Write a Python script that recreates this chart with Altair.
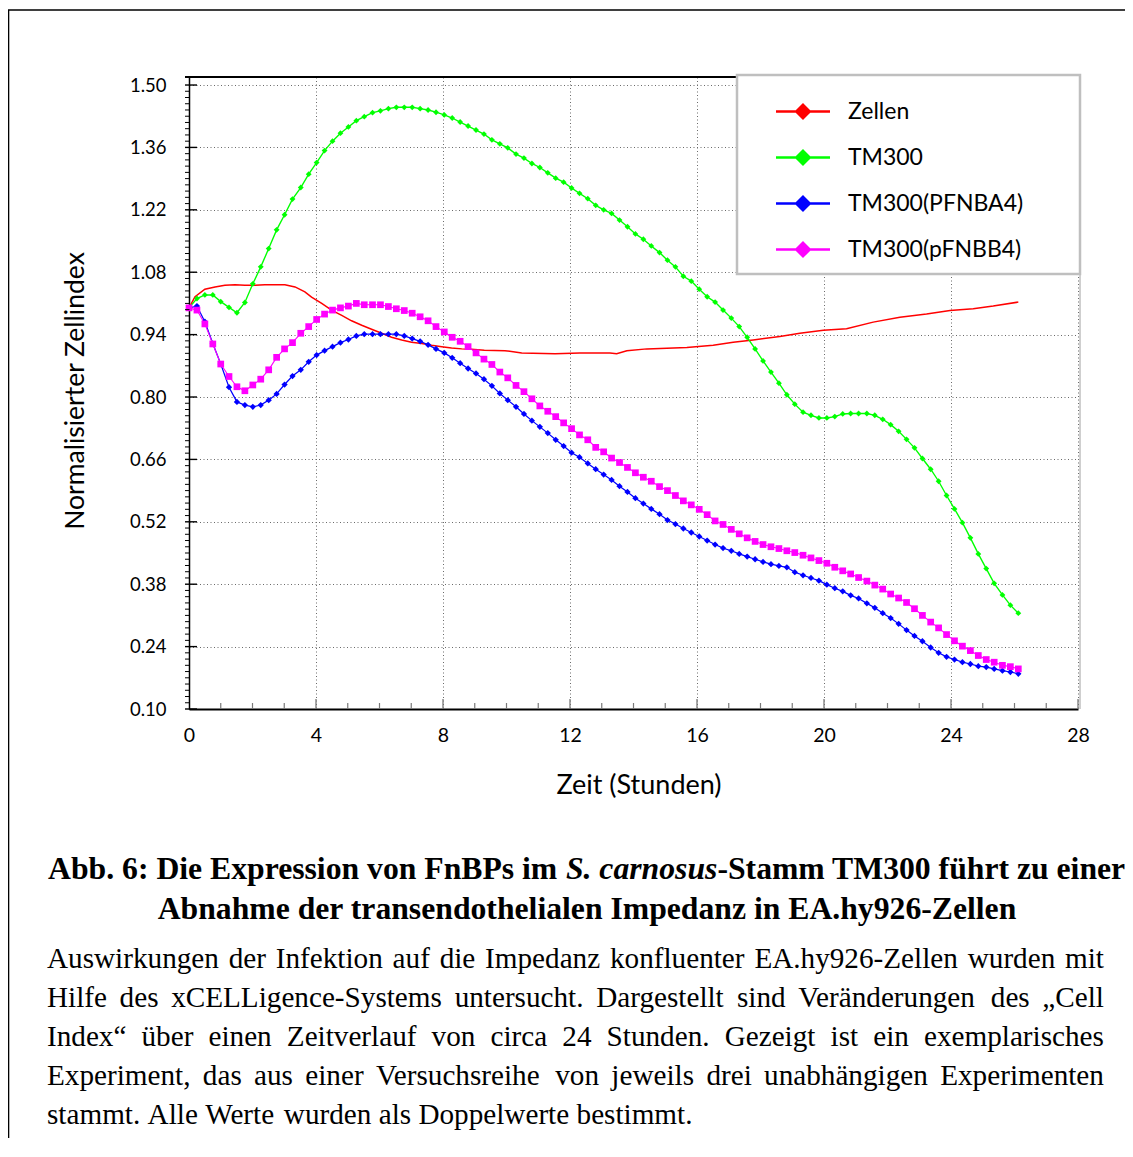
import altair as alt
import pandas as pd

# ---------------- data ----------------
hours = [0.00, 0.25, 0.50, 0.75, 1.00, 1.26, 1.51, 1.76, 2.01, 2.26,
         2.51, 2.76, 3.01, 3.26, 3.52, 3.77, 4.02, 4.27, 4.52, 4.77,
         5.02, 5.27, 5.52, 5.78, 6.03, 6.28, 6.53, 6.78, 7.03, 7.28,
         7.53, 7.78, 8.04, 8.29, 8.54, 8.79, 9.04, 9.29, 9.54, 9.79,
         10.04, 10.30, 10.55, 10.80, 11.05, 11.30, 11.55, 11.80, 12.05, 12.30,
         12.56, 12.81, 13.06, 13.31, 13.56, 13.81, 14.06, 14.31, 14.56, 14.82,
         15.07, 15.32, 15.57, 15.82, 16.07, 16.32, 16.57, 16.82, 17.08, 17.33,
         17.58, 17.83, 18.08, 18.33, 18.58, 18.83, 19.08, 19.34, 19.59, 19.84,
         20.09, 20.34, 20.59, 20.84, 21.09, 21.35, 21.60, 21.85, 22.10, 22.35,
         22.60, 22.85, 23.10, 23.36, 23.61, 23.86, 24.11, 24.36, 24.61, 24.86,
         25.11, 25.36, 25.62, 25.87, 26.12]

tm300 = [1.000, 1.021, 1.029, 1.029, 1.014, 1.001, 0.989, 1.012, 1.054, 1.092,
         1.133, 1.175, 1.209, 1.244, 1.270, 1.300, 1.326, 1.353, 1.374, 1.392,
         1.406, 1.420, 1.429, 1.438, 1.442, 1.447, 1.450, 1.450, 1.450, 1.447,
         1.444, 1.439, 1.433, 1.426, 1.417, 1.408, 1.399, 1.390, 1.377, 1.368,
         1.359, 1.345, 1.336, 1.324, 1.315, 1.303, 1.291, 1.282, 1.269, 1.257,
         1.245, 1.230, 1.220, 1.212, 1.197, 1.182, 1.166, 1.154, 1.139, 1.124,
         1.107, 1.092, 1.071, 1.060, 1.042, 1.025, 1.013, 0.995, 0.977, 0.958,
         0.934, 0.908, 0.881, 0.856, 0.831, 0.805, 0.784, 0.766, 0.759, 0.753,
         0.753, 0.756, 0.762, 0.763, 0.763, 0.763, 0.759, 0.750, 0.738, 0.723,
         0.705, 0.686, 0.662, 0.638, 0.611, 0.579, 0.549, 0.518, 0.484, 0.448,
         0.415, 0.382, 0.356, 0.333, 0.315]

pfnba4 = [1.000, 1.004, 0.969, 0.920, 0.874, 0.822, 0.789, 0.782, 0.778, 0.782,
          0.793, 0.807, 0.828, 0.847, 0.861, 0.879, 0.894, 0.904, 0.913, 0.922,
          0.929, 0.937, 0.941, 0.941, 0.941, 0.941, 0.941, 0.937, 0.931, 0.925,
          0.917, 0.908, 0.899, 0.888, 0.876, 0.864, 0.853, 0.840, 0.825, 0.808,
          0.793, 0.778, 0.762, 0.747, 0.733, 0.719, 0.704, 0.690, 0.675, 0.665,
          0.651, 0.638, 0.626, 0.614, 0.600, 0.587, 0.573, 0.561, 0.549, 0.537,
          0.524, 0.515, 0.505, 0.496, 0.487, 0.478, 0.469, 0.461, 0.455, 0.448,
          0.442, 0.436, 0.430, 0.425, 0.421, 0.418, 0.407, 0.400, 0.394, 0.388,
          0.379, 0.371, 0.364, 0.355, 0.348, 0.337, 0.327, 0.315, 0.304, 0.291,
          0.277, 0.264, 0.252, 0.238, 0.226, 0.217, 0.211, 0.205, 0.201, 0.196,
          0.194, 0.190, 0.186, 0.183, 0.179]

pfnbb4 = [1.000, 0.995, 0.964, 0.919, 0.874, 0.846, 0.823, 0.814, 0.827, 0.840,
          0.861, 0.889, 0.908, 0.922, 0.943, 0.958, 0.974, 0.986, 0.995, 1.000,
          1.004, 1.010, 1.007, 1.007, 1.007, 1.003, 0.998, 0.994, 0.988, 0.980,
          0.971, 0.958, 0.946, 0.934, 0.925, 0.913, 0.899, 0.885, 0.873, 0.856,
          0.843, 0.826, 0.812, 0.796, 0.780, 0.768, 0.756, 0.742, 0.729, 0.715,
          0.704, 0.687, 0.677, 0.663, 0.653, 0.642, 0.630, 0.620, 0.611, 0.599,
          0.590, 0.579, 0.567, 0.558, 0.548, 0.536, 0.522, 0.514, 0.503, 0.493,
          0.484, 0.476, 0.469, 0.464, 0.460, 0.455, 0.451, 0.445, 0.439, 0.433,
          0.427, 0.418, 0.410, 0.403, 0.395, 0.387, 0.378, 0.369, 0.358, 0.349,
          0.339, 0.325, 0.310, 0.295, 0.282, 0.267, 0.253, 0.241, 0.231, 0.220,
          0.211, 0.205, 0.198, 0.195, 0.190]

zellen_hours = [0.00, 0.19, 0.50, 0.82, 1.13, 1.45, 1.76, 2.08, 2.39, 2.71,
                3.02, 3.34, 3.65, 3.86, 4.18, 4.49, 4.81, 5.12, 5.44, 5.75,
                6.07, 6.38, 6.70, 7.01, 7.33, 7.64, 7.96, 8.27, 8.59, 8.90,
                9.30, 9.95, 10.48, 11.53, 12.31, 13.26, 13.47, 13.79, 14.42, 15.68,
                16.51, 17.14, 17.77, 18.61, 19.24, 19.98, 20.71, 21.55, 22.39, 23.23,
                23.97, 24.70, 25.33, 26.12]
zellen = [1.000, 1.025, 1.042, 1.047, 1.051, 1.052, 1.051, 1.051, 1.052, 1.052,
          1.052, 1.047, 1.036, 1.024, 1.010, 0.995, 0.983, 0.971, 0.961, 0.952,
          0.943, 0.934, 0.928, 0.923, 0.920, 0.916, 0.913, 0.910, 0.908, 0.907,
          0.905, 0.904, 0.899, 0.897, 0.899, 0.899, 0.897, 0.904, 0.908, 0.911,
          0.916, 0.923, 0.928, 0.936, 0.943, 0.950, 0.953, 0.968, 0.979, 0.986,
          0.994, 0.998, 1.004, 1.013]

series_names = ["Zellen", "TM300", "TM300(PFNBA4)", "TM300(pFNBB4)"]
series_colors = ["#ff0000", "#00ff00", "#0000ff", "#ff00ff"]
line_widths = [1.5, 1.1, 1.3, 1.6]
marker_series = ["TM300", "TM300(PFNBA4)", "TM300(pFNBB4)"]
marker_shapes = ["diamond", "diamond", "square"]
marker_sizes = [34, 45, 55]

y_ticks = [0.10, 0.24, 0.38, 0.52, 0.66, 0.80, 0.94, 1.08, 1.22, 1.36, 1.50]
x_ticks = [0, 4, 8, 12, 16, 20, 24, 28]
x_minor = [h for h in range(1, 28) if h % 4]
y_minor = [round(0.10 + 0.014 * k, 3) for k in range(1, 100) if k % 10]

x_title = "Zeit (Stunden)"
y_title = "Normalisierter Zellindex"
head_line1 = [("Abb. 6: Die Expression von FnBPs im ", "normal"),
              ("S. carnosus", "italic"),
              ("-Stamm TM300 führt zu einer", "normal")]
head_line2 = "Abnahme der transendothelialen Impedanz in EA.hy926-Zellen"
body_lines = [
    "Auswirkungen der Infektion auf die Impedanz konfluenter EA.hy926-Zellen wurden mit",
    "Hilfe des xCELLigence-Systems untersucht. Dargestellt sind Veränderungen des „Cell",
    "Index“ über einen Zeitverlauf von circa 24 Stunden. Gezeigt ist ein exemplarisches",
    "Experiment, das aus einer Versuchsreihe von jeweils drei unabhängigen Experimenten",
    "stammt. Alle Werte wurden als Doppelwerte bestimmt.",
]

# ---------------- layout ----------------
X0, Y0 = 189, 77          # page position of the plot area
W, H = 889, 632
PAD_L, PAD_T = X0 - 8, Y0 - 8
CANVAS_W, CANVAS_H = 1117, 1130

# Times metrics (per 1000 em) for justified caption layout
R_W = {" ": 250, ",": 250, "-": 333, ".": 250, ":": 278, "„": 444, "“": 444,
       "A": 722, "B": 667, "C": 667, "D": 722, "E": 611, "F": 556, "G": 722, "H": 722,
       "I": 333, "J": 389, "K": 722, "L": 611, "M": 889, "N": 722, "O": 722, "P": 556,
       "Q": 722, "R": 667, "S": 556, "T": 611, "U": 722, "V": 722, "W": 944, "X": 722,
       "Y": 722, "Z": 611, "a": 444, "b": 500, "c": 444, "d": 500, "e": 444, "f": 333,
       "g": 500, "h": 500, "i": 278, "j": 278, "k": 500, "l": 278, "m": 778, "n": 500,
       "o": 500, "p": 500, "q": 500, "r": 333, "s": 389, "t": 278, "u": 500, "v": 500,
       "w": 722, "x": 500, "y": 500, "z": 444, "ä": 444, "ö": 500, "ü": 500}
B_W = {" ": 250, ",": 250, "-": 333, ".": 250, ":": 333,
       "A": 722, "B": 667, "C": 722, "D": 722, "E": 667, "F": 611, "G": 778, "H": 778,
       "I": 389, "M": 944, "P": 611, "S": 556, "T": 667, "Z": 667,
       "a": 500, "b": 556, "c": 444, "d": 556, "e": 444, "f": 333, "g": 500, "h": 556,
       "i": 278, "l": 278, "m": 833, "n": 556, "o": 500, "p": 556, "r": 444, "s": 389,
       "t": 333, "u": 556, "v": 500, "x": 500, "y": 500, "z": 444, "ü": 556}
BI_W = {" ": 250, ".": 250, "S": 556, "a": 500, "c": 444, "n": 556, "o": 500,
        "r": 389, "s": 389, "u": 556}


def tw(s, table, size):
    return sum(table.get(c, 500) for c in s) * size / 1000.0


BODY_SIZE, HEAD_SIZE = 29.2, 31.7
BODY_LEFT, BODY_RIGHT = 47, 1104
HEAD_CENTER = 587
body_baselines = [968, 1007, 1046, 1085, 1124]
head_baselines = [879, 919]

body_rows = []
for i, line in enumerate(body_lines):
    words = line.split(" ")
    widths = [tw(w, R_W, BODY_SIZE) for w in words]
    if i < len(body_lines) - 1:
        gap = (BODY_RIGHT - BODY_LEFT - sum(widths)) / (len(words) - 1)
    else:
        gap = R_W[" "] * BODY_SIZE / 1000.0
    x = BODY_LEFT
    for w, wd in zip(words, widths):
        body_rows.append({"px": x - X0, "py": body_baselines[i] - Y0, "text": w})
        x += wd + gap

head_rows_n, head_rows_i = [], []
seg_w = [tw(s, BI_W if st == "italic" else B_W, HEAD_SIZE) for s, st in head_line1]
x = HEAD_CENTER - sum(seg_w) / 2
for (s, st), wd in zip(head_line1, seg_w):
    row = {"px": x - X0, "py": head_baselines[0] - Y0, "text": s.strip()}
    (head_rows_i if st == "italic" else head_rows_n).append(row)
    x += wd

# ---------------- frames ----------------
rows = []
rows += [{"series": "Zellen", "hour": h, "value": v} for h, v in zip(zellen_hours, zellen)]
for name, vals in zip(marker_series, [tm300, pfnba4, pfnbb4]):
    rows += [{"series": name, "hour": h, "value": v} for h, v in zip(hours, vals)]
df = pd.DataFrame(rows)
df_markers = df[df["series"] != "Zellen"]
one = pd.DataFrame({"k": [0]})

FONT = "Lato"
x_scale = alt.Scale(domain=[0, 28], nice=False, zero=False)
y_scale = alt.Scale(domain=[0.10, 1.518], nice=False, zero=False)

x_axis = alt.Axis(values=x_ticks, format="d", ticks=False, domainColor="black", domainWidth=2,
                  grid=True, gridColor="#6a6a6a", gridDash=[1, 2.5], gridWidth=1,
                  labelFont=FONT, labelFontSize=19.5, labelColor="black", labelPadding=17,
                  labelFlush=False,
                  title=x_title, titleFont=FONT, titleFontSize=27, titleFontWeight="normal",
                  titleColor="black", titleX=449.5, titleY=84, titleAlign="center",
                  titleBaseline="alphabetic")
y_axis = alt.Axis(values=y_ticks, format=".2f", ticks=False, domainColor="black", domainWidth=1.5,
                  grid=True, gridColor="#6a6a6a", gridDash=[1, 2.5], gridWidth=1,
                  labelFont=FONT, labelFontSize=18.5, labelColor="black", labelPadding=23,
                  labelFlush=False,
                  title=y_title, titleFont=FONT, titleFontSize=26.5, titleFontWeight="normal",
                  titleColor="black", titleX=-106, titleY=313.5, titleAngle=270,
                  titleAlign="center", titleBaseline="alphabetic")

legend = alt.Legend(
    title=None, orient="none", legendX=600.5, legendY=21, direction="vertical",
    symbolType="M-2,-0.09L2,-0.09L2,0.09L-2,0.09Z M0,-0.63L0.63,0L0,0.63L-0.63,0Z",
    symbolSize=729, symbolStrokeWidth=0, symbolOpacity=1,
    labelFont=FONT, labelFontSize=23, labelColor="black", labelOffset=31.5, labelLimit=400,
    rowPadding=20, padding=0, zindex=1,
)
color_scale = alt.Scale(domain=series_names, range=series_colors)

border = alt.Chart(one).mark_rect(fillOpacity=0, stroke="black", strokeWidth=1.6).encode(
    x=alt.value(8.5 - X0), x2=alt.value(1400), y=alt.value(10 - Y0), y2=alt.value(1400))

lines = alt.Chart(df).mark_line().encode(
    x=alt.X("hour:Q", scale=x_scale, axis=x_axis),
    y=alt.Y("value:Q", scale=y_scale, axis=y_axis),
    color=alt.Color("series:N", scale=color_scale, legend=None),
    strokeWidth=alt.StrokeWidth("series:N", scale=alt.Scale(domain=series_names, range=line_widths),
                                legend=None),
    order="hour:Q",
)

points = alt.Chart(df_markers).mark_point(filled=True, opacity=1).encode(
    x=alt.X("hour:Q", scale=x_scale),
    y=alt.Y("value:Q", scale=y_scale),
    color=alt.Color("series:N", scale=color_scale, legend=None),
    shape=alt.Shape("series:N", scale=alt.Scale(domain=marker_series, range=marker_shapes), legend=None),
    size=alt.Size("series:N", scale=alt.Scale(domain=marker_series, range=marker_sizes), legend=None),
)

# legend-only layer: no marks drawn, the legend lists the colour scale's domain
legend_layer = alt.Chart(df).transform_filter("false").mark_point(filled=True, opacity=1).encode(
    x=alt.X("hour:Q", scale=x_scale),
    y=alt.Y("value:Q", scale=y_scale),
    color=alt.Color("series:N", scale=color_scale, legend=legend),
)

xt_major = alt.Chart(pd.DataFrame({"h": x_ticks[1:]})).mark_rule(color="#7a7a7a", strokeWidth=1.3).encode(
    x=alt.X("h:Q", scale=x_scale), y=alt.value(H), y2=alt.value(H - 10))
xt_minor = alt.Chart(pd.DataFrame({"h": x_minor})).mark_rule(color="#7a7a7a", strokeWidth=1.2).encode(
    x=alt.X("h:Q", scale=x_scale), y=alt.value(H), y2=alt.value(H - 6))
yt_major = alt.Chart(pd.DataFrame({"v": y_ticks})).mark_rule(color="black", strokeWidth=1.4).encode(
    y=alt.Y("v:Q", scale=y_scale), x=alt.value(-4), x2=alt.value(8))
yt_minor = alt.Chart(pd.DataFrame({"v": y_minor})).mark_rule(color="black", strokeWidth=1).encode(
    y=alt.Y("v:Q", scale=y_scale), x=alt.value(-4), x2=alt.value(0.5))

top_line = alt.Chart(one).mark_rule(color="black", strokeWidth=2).encode(
    x=alt.value(-4), x2=alt.value(W), y=alt.value(0))
right_line = alt.Chart(one).mark_rule(color="#a0a0a0", strokeWidth=1).encode(
    x=alt.value(W + 2), y=alt.value(0), y2=alt.value(H))

legend_box = alt.Chart(one).mark_rect(fill="white", stroke="#bfbfbf", strokeWidth=2.5).encode(
    x=alt.value(737 - X0), x2=alt.value(1080 - X0), y=alt.value(75 - Y0), y2=alt.value(274 - Y0))


def text_layer(frame, **kw):
    return alt.Chart(pd.DataFrame(frame)).mark_text(
        font="Liberation Serif", align=kw.pop("align", "left"), baseline="alphabetic",
        color="black", **kw).encode(
        x=alt.X("px:Q", scale=None),
        y=alt.Y("py:Q", scale=None),
        text="text:N")


body_text = text_layer(body_rows, fontSize=BODY_SIZE)
head_n = text_layer(head_rows_n, fontSize=HEAD_SIZE, fontWeight="bold")
head_i = text_layer(head_rows_i, fontSize=HEAD_SIZE, fontWeight="bold", fontStyle="italic")
head_2 = text_layer([{"px": HEAD_CENTER - X0, "py": head_baselines[1] - Y0, "text": head_line2}],
                    fontSize=HEAD_SIZE, fontWeight="bold", align="center")

chart = alt.layer(
    border, lines, points, xt_major, xt_minor, yt_major, yt_minor,
    top_line, right_line, legend_box, legend_layer, head_n, head_i, head_2, body_text,
).resolve_legend(
    color="independent", shape="independent", size="independent", strokeWidth="independent"
).properties(
    width=W, height=H,
    autosize=alt.AutoSizeParams(type="none"),
    padding={"left": PAD_L, "top": PAD_T, "right": CANVAS_W - PAD_L - W,
             "bottom": CANVAS_H - PAD_T - H},
).configure_view(strokeWidth=0)

chart.save("out.html", embed_options={"renderer": "svg", "actions": False})
